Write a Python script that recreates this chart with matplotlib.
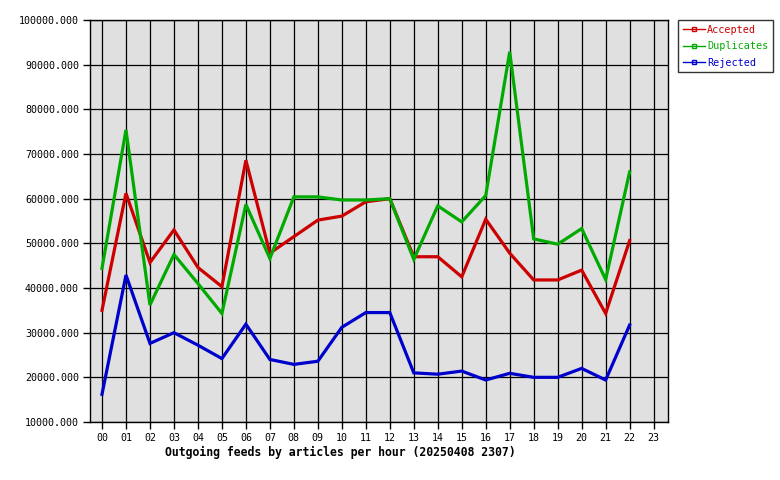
import matplotlib
matplotlib.use("Agg")
import matplotlib.pyplot as plt
from matplotlib.lines import Line2D

hours = ["%02d" % h for h in range(24)]

accepted = [35000, 61200, 45700, 53000, 44600, 40300, 68600, 47800, 51500, 55200,
            56100, 59300, 60000, 47000, 47000, 42500, 55400, 47800, 41800, 41800,
            44000, 34300, 50600]
duplicates = [44400, 75400, 36200, 47500, 41000, 34300, 58700, 46600, 60400, 60400,
              59700, 59700, 60000, 46400, 58400, 54800, 60700, 92900, 51000, 49800,
              53300, 41900, 66000]
rejected = [16200, 42900, 27600, 30000, 27200, 24200, 31900, 24000, 22900, 23600,
            31200, 34500, 34500, 21000, 20700, 21400, 19400, 20900, 20000, 20000,
            22000, 19400, 31700]

series = [("Accepted", accepted, "#cc0000"),
          ("Duplicates", duplicates, "#00aa00"),
          ("Rejected", rejected, "#0000cc")]

mono = "DejaVu Sans Mono"

fig = plt.figure(figsize=(7.8, 4.8), dpi=100)
ax = fig.add_axes([90 / 780, 58 / 480, 578 / 780, 402 / 480])
ax.set_facecolor("#e0e0e0")

handles = []
for name, vals, col in series:
    ax.plot(range(len(vals)), vals, color=col, lw=2.3, solid_joinstyle="miter", zorder=3)
    handles.append(Line2D([], [], color=col, lw=1, marker="s", markersize=3,
                          markerfacecolor="none", markeredgecolor=col, label=name))

ax.set_xlim(-0.5, 23.6)
ax.set_ylim(10000, 100000)
ax.set_xticks(range(24))
ax.set_xticklabels(hours)
ax.set_yticks(range(10000, 100001, 10000))
ax.set_yticklabels(["%d.000" % v for v in range(10000, 100001, 10000)])
ax.grid(True, color="black", lw=0.9, zorder=1)
ax.set_axisbelow(True)
for s in ax.spines.values():
    s.set_color("black")
    s.set_linewidth(1)
ax.tick_params(length=5, width=1, labelsize=7.2, pad=3)
for lbl in ax.get_xticklabels() + ax.get_yticklabels():
    lbl.set_family(mono)

fig.text(165 / 780, 1 - 452 / 480, "Outgoing feeds by articles per hour (20250408 2307)",
         family=mono, fontsize=8.3, fontweight="bold", ha="left", va="center")

leg = fig.legend(handles=handles, loc="upper left", bbox_to_anchor=(678 / 780, 1 - 20 / 480),
                 prop={"family": mono, "size": 7.3}, frameon=True, fancybox=False,
                 edgecolor="black", handlelength=2.2, handletextpad=0.2,
                 borderpad=0.45, labelspacing=0.65, borderaxespad=0)
leg.get_frame().set_linewidth(1)
for txt, (_, _, col) in zip(leg.get_texts(), series):
    txt.set_color(col)

fig.savefig("out.png", dpi=100)
